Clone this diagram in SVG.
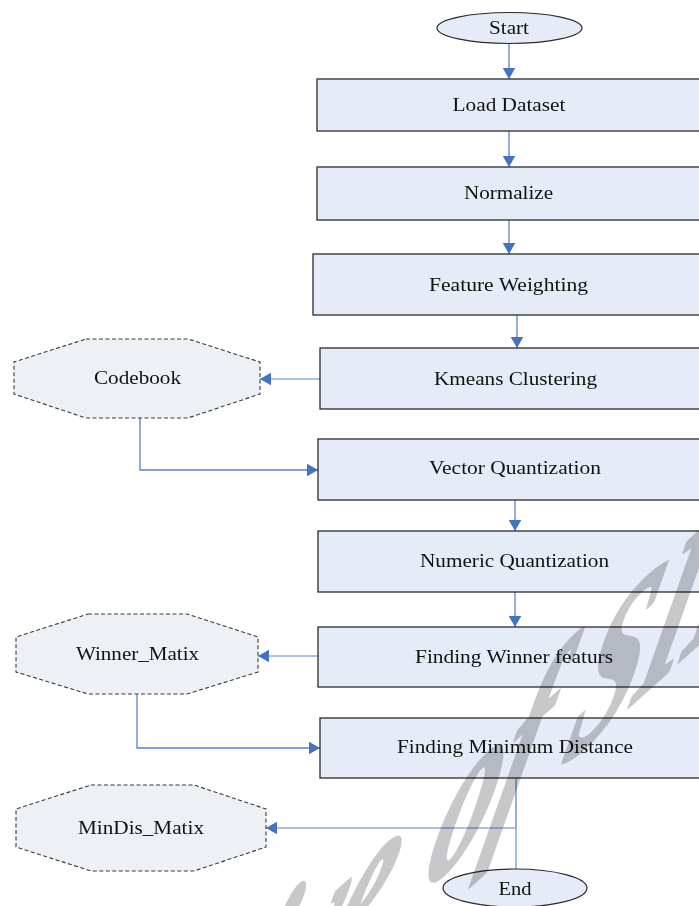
<svg xmlns="http://www.w3.org/2000/svg" width="699" height="906" viewBox="0 0 699 906">
<style>
.box{fill:#e6ecf7;stroke:#2b2b2b;stroke-width:1.3}
.term{fill:#e6ecf7;stroke:#2b2b2b;stroke-width:1.2}
.store{fill:#edf0f5;stroke:#3a3a3a;stroke-width:1.1;stroke-dasharray:4 2.5}
.lbl{font-family:"Liberation Serif","Times New Roman",serif;font-size:19px;fill:#111;text-anchor:middle}
.flow{fill:none;stroke:#5683cc;stroke-width:1.3}
.side{fill:none;stroke:#8eaee0;stroke-width:1.6}
.wm{font-family:"Liberation Serif","Times New Roman",serif;font-style:italic;font-weight:bold;font-size:240px;fill:#c8c8ca;stroke:#c8c8ca;stroke-width:5;stroke-linejoin:round;mix-blend-mode:multiply}
</style>
<defs>
<marker id="ah" markerUnits="userSpaceOnUse" markerWidth="12" markerHeight="13" refX="11" refY="6.25" orient="auto">
<path d="M0,0 L11,6.25 L0,12.5 z" fill="#4472c4"/>
</marker>
</defs>
<rect width="699" height="906" fill="#ffffff"/>
<g id="connectors">
<line class="flow" x1="509" y1="43.5" x2="509" y2="79" marker-end="url(#ah)"/>
<line class="flow" x1="509" y1="131" x2="509" y2="167" marker-end="url(#ah)"/>
<line class="flow" x1="509" y1="220" x2="509" y2="254" marker-end="url(#ah)"/>
<line class="flow" x1="517" y1="315" x2="517" y2="348" marker-end="url(#ah)"/>
<line class="side" x1="320" y1="379" x2="260" y2="379" marker-end="url(#ah)"/>
<polyline class="flow" points="140,418 140,470 318,470" marker-end="url(#ah)"/>
<line class="flow" x1="515" y1="500" x2="515" y2="531" marker-end="url(#ah)"/>
<line class="flow" x1="515" y1="592" x2="515" y2="627" marker-end="url(#ah)"/>
<line class="side" x1="318" y1="656" x2="258" y2="656" marker-end="url(#ah)"/>
<polyline class="flow" points="137,694 137,748 320,748" marker-end="url(#ah)"/>
<polyline class="side" points="516,778 516,828 266,828" marker-end="url(#ah)"/>
<line class="side" x1="516" y1="778" x2="516" y2="869"/>
</g>
<g id="start"><ellipse class="term" cx="509.5" cy="28" rx="72.5" ry="15.5"/><text class="lbl" x="509" y="34" textLength="40" lengthAdjust="spacingAndGlyphs">Start</text></g>
<g id="load"><rect class="box" x="317" y="79" width="400" height="52"/><text class="lbl" x="509" y="111" textLength="113" lengthAdjust="spacingAndGlyphs">Load Dataset</text></g>
<g id="normalize"><rect class="box" x="317" y="167" width="400" height="53"/><text class="lbl" x="508.5" y="199" textLength="89" lengthAdjust="spacingAndGlyphs">Normalize</text></g>
<g id="weighting"><rect class="box" x="313" y="254" width="400" height="61"/><text class="lbl" x="508.5" y="290.5" textLength="159" lengthAdjust="spacingAndGlyphs">Feature Weighting</text></g>
<g id="kmeans"><rect class="box" x="320" y="348" width="400" height="61"/><text class="lbl" x="515.5" y="385" textLength="163" lengthAdjust="spacingAndGlyphs">Kmeans Clustering</text></g>
<g id="codebook"><polygon class="store" points="86,339 188,339 260,362 260,394 188,418 86,418 14,394 14,362"/><text class="lbl" x="137.5" y="384" textLength="87" lengthAdjust="spacingAndGlyphs">Codebook</text></g>
<g id="vq"><rect class="box" x="318" y="439" width="400" height="61"/><text class="lbl" x="515" y="474" textLength="172" lengthAdjust="spacingAndGlyphs">Vector Quantization</text></g>
<g id="nq"><rect class="box" x="318" y="531" width="400" height="61"/><text class="lbl" x="514.5" y="567" textLength="189" lengthAdjust="spacingAndGlyphs">Numeric Quantization</text></g>
<g id="winner"><rect class="box" x="318" y="627" width="400" height="60"/><text class="lbl" x="514" y="663" textLength="198" lengthAdjust="spacingAndGlyphs">Finding Winner featurs</text></g>
<g id="winnermatix"><polygon class="store" points="88,614 187,614 258,637 258,672 187,694 88,694 16,672 16,637"/><text class="lbl" x="137.5" y="660" textLength="123" lengthAdjust="spacingAndGlyphs">Winner_Matix</text></g>
<g id="mindist"><rect class="box" x="320" y="718" width="400" height="60"/><text class="lbl" x="515" y="753" textLength="236" lengthAdjust="spacingAndGlyphs">Finding Minimum Distance</text></g>
<g id="mindismatix"><polygon class="store" points="91,785 194,785 266,809 266,847 194,871 91,871 16,847 16,809"/><text class="lbl" x="141" y="834" textLength="126" lengthAdjust="spacingAndGlyphs">MinDis_Matix</text></g>
<g id="end"><ellipse class="term" cx="515" cy="888" rx="72" ry="19"/><text class="lbl" x="515" y="895" textLength="33" lengthAdjust="spacingAndGlyphs">End</text></g>
<g id="watermark">
<text class="wm" transform="matrix(0.535,-0.482,-0.276,0.961,419.7,895.1)" x="-80" y="0" text-anchor="end">Archive</text>
<text class="wm" transform="matrix(0.535,-0.482,-0.276,0.961,419.7,895.1)" x="0" y="0">of SID</text>
</g>
</svg>
